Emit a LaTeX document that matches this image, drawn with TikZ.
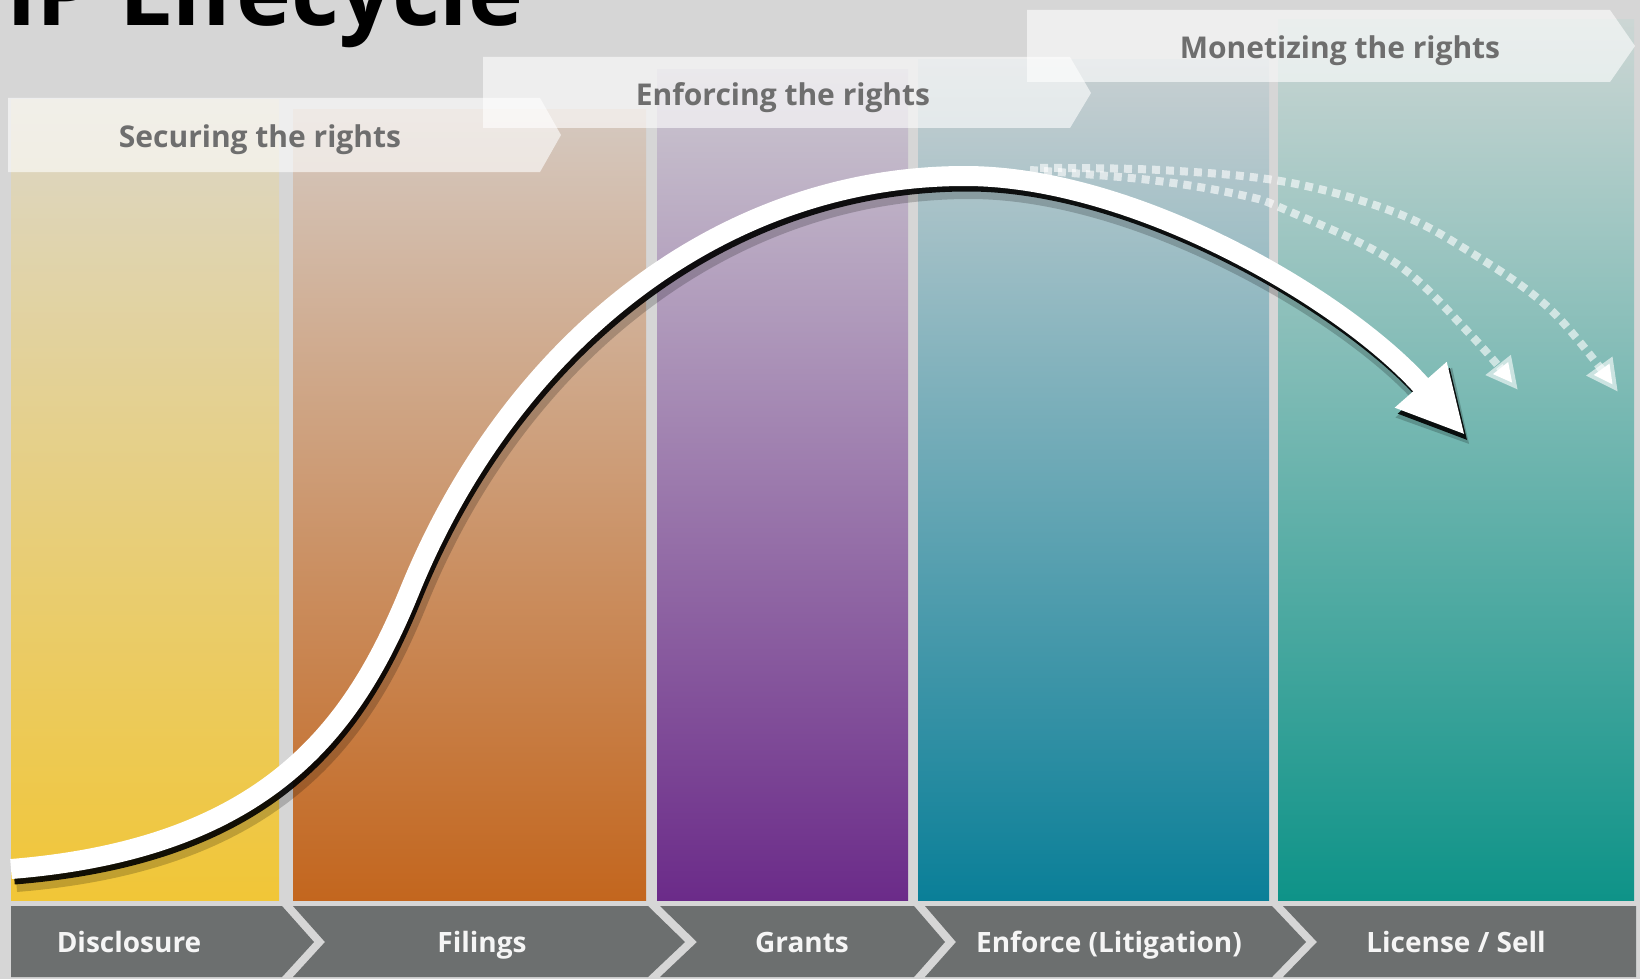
\documentclass[tikz,border=0pt]{standalone}
\usepackage{fontspec}
\setmainfont{Open Sans}
\usetikzlibrary{arrows.meta}

\definecolor{bggray}{HTML}{D6D6D6}
\definecolor{bannerfg}{HTML}{6E6E6E}
\definecolor{bargray}{HTML}{6C6F6F}
\definecolor{yeltop}{HTML}{DCD7C8}
\definecolor{yelmid}{HTML}{E8D08A}
\definecolor{yelbot}{HTML}{F1C637}
\definecolor{orgtop}{HTML}{D5C9C0}
\definecolor{orgmid}{HTML}{CF9F7B}
\definecolor{orgbot}{HTML}{C3661E}
\definecolor{purtop}{HTML}{CCC8D0}
\definecolor{purmid}{HTML}{A58DB3}
\definecolor{purbot}{HTML}{6B2B89}
\definecolor{blutop}{HTML}{C9D0D2}
\definecolor{blumid}{HTML}{97B6BF}
\definecolor{blubot}{HTML}{0A7F98}
\definecolor{teatop}{HTML}{CCD6D4}
\definecolor{teamid}{HTML}{93BAB2}
\definecolor{teabot}{HTML}{0E9388}

\newcommand{\lifepath}{(11,869) .. controls (271,848) and (355,725) .. (410,590) .. controls (508,349) and (715,176) .. (965,176) .. controls (1135,176) and (1346,300) .. (1465,435)}

\begin{document}
\begin{tikzpicture}[x=1pt, y=-1pt,
    banner/.style={fill=white, fill opacity=0.6},
    bannertext/.style={anchor=base, font=\fontsize{30}{36}\selectfont\bfseries, text=bannerfg, inner sep=0pt},
    stagebar/.style={fill=bargray},
    stagetext/.style={anchor=base, font=\fontsize{28}{34}\selectfont\bfseries, text=white!96!black, inner sep=0pt},
    maybeline/.style={draw=white, draw opacity=0.6, line width=8pt, dash pattern=on 8pt off 6pt, -{Triangle[length=32pt, width=30pt]}}]
    %background
    \useasboundingbox (0,0) rectangle (1640,979);
    \fill[bggray] (0,0) rectangle (1640,979);
    \node[anchor=base west, inner sep=0pt, font=\fontsize{93}{100}\selectfont\bfseries] (title) at (6,26) {IP Lifecycle};

    %columns
    \shade[top color=yeltop, middle color=yelmid, bottom color=yelbot] (11,100) rectangle (279,900);
    \shade[top color=orgtop, middle color=orgmid, bottom color=orgbot] (293,110) rectangle (646,900);
    \shade[top color=purtop, middle color=purmid, bottom color=purbot] (657,70) rectangle (908,900);
    \shade[top color=blutop, middle color=blumid, bottom color=blubot] (918,60) rectangle (1269,900);
    \shade[top color=teatop, middle color=teamid, bottom color=teabot] (1278,20) rectangle (1634,900);

    %banners
    \fill[banner] (8,98) -- (540,98) -- (561,135) -- (540,172) -- (8,172) -- cycle;
    \fill[banner] (483,57) -- (1070,57) -- (1091,93) -- (1070,128) -- (483,128) -- cycle;
    \fill[banner] (1027,10) -- (1610,10) -- (1635,46) -- (1610,82) -- (1027,82) -- cycle;
    \node[bannertext] (secure) at (260,147) {Securing the rights};
    \node[bannertext] (enforce) at (783,106) {Enforcing the rights};
    \node[bannertext] (monetize) at (1340,59) {Monetizing the rights};

    %stages
    \fill[stagebar] (11,906) -- (282,906) -- (314,942) -- (282,977) -- (11,977) -- cycle;
    \fill[stagebar] (293,906) -- (648,906) -- (685,942) -- (648,977) -- (293,977) -- (325,942) -- cycle;
    \fill[stagebar] (660,906) -- (914,906) -- (945,942) -- (914,977) -- (660,977) -- (697,942) -- cycle;
    \fill[stagebar] (925,906) -- (1272,906) -- (1306,942) -- (1272,977) -- (925,977) -- (956,942) -- cycle;
    \fill[stagebar] (1283,906) -- (1636,906) -- (1636,977) -- (1283,977) -- (1317,942) -- cycle;
    \node[stagetext] (disclosure) at (129,952) {Disclosure};
    \node[stagetext] (filings) at (482,952) {Filings};
    \node[stagetext] (grants) at (802,952) {Grants};
    \node[stagetext] (litigation) at (1109,952) {Enforce (Litigation)};
    \node[stagetext] (license) at (1456,952) {License / Sell};

    %other outcomes
    \draw[maybeline] plot[smooth, tension=0.6] coordinates {(1040,168) (1160,170) (1286,182) (1394,212) (1470,252) (1551,310) (1618,392)};
    \draw[maybeline] plot[smooth, tension=0.6] coordinates {(1030,170) (1150,180) (1241,195) (1286,210) (1394,262) (1469,333) (1518,390)};

    %lifecycle curve
    \draw[black, opacity=0.2, line width=26pt, line cap=butt, shift={(5,10)}, -{Triangle[length=70pt, width=70pt]}] \lifepath;
    \draw[black, opacity=0.9, line width=19pt, line cap=butt, shift={(3,6)}, -{Triangle[length=67pt, width=64pt]}] \lifepath;
    \draw[white, line width=20pt, line cap=butt, -{Triangle[length=67pt, width=64pt]}] \lifepath;
\end{tikzpicture}
\end{document}
